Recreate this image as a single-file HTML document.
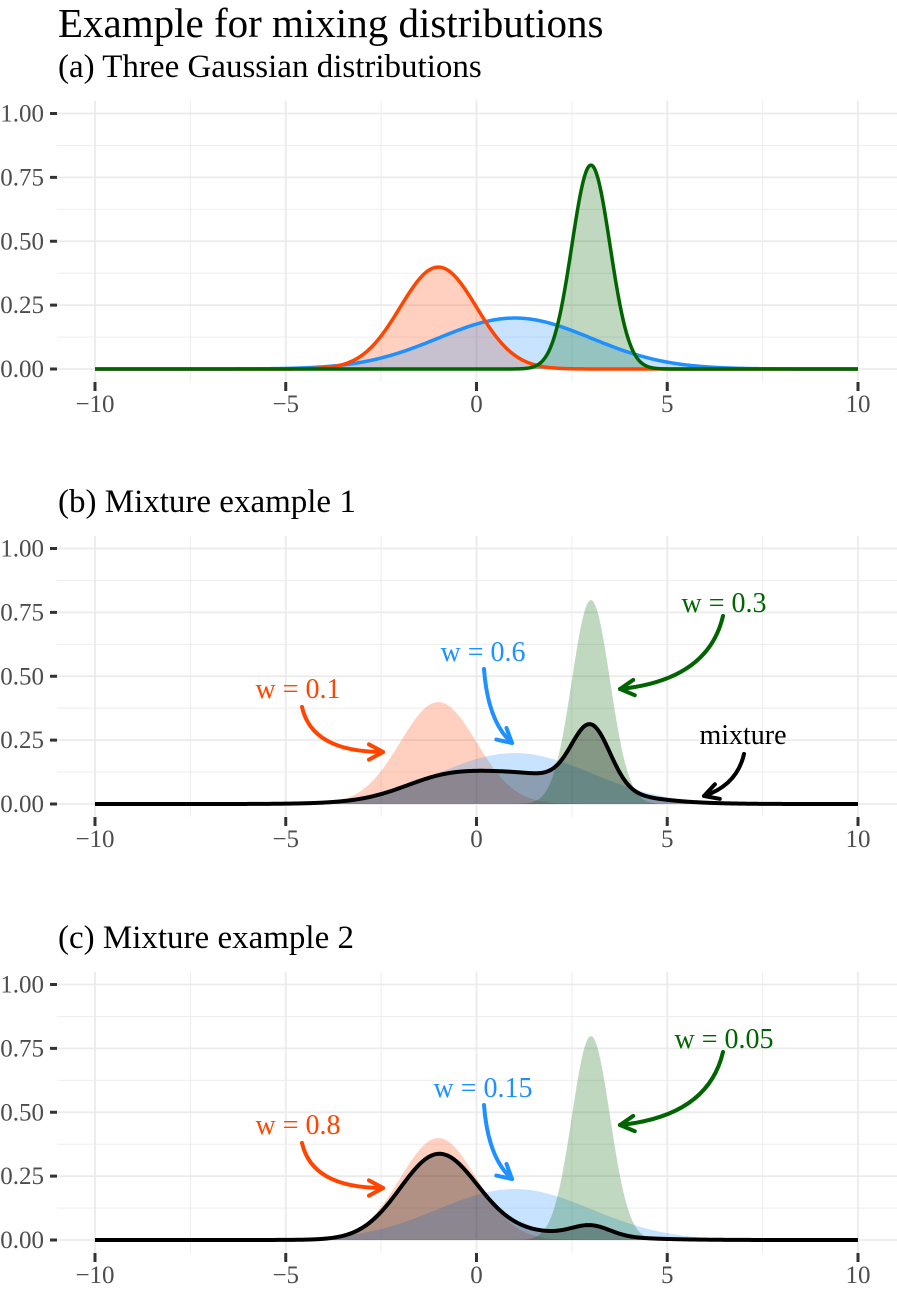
<!DOCTYPE html>
<html><head><meta charset="utf-8"><style>
body{margin:0;background:#fff}
svg text{font-family:"Liberation Serif",serif}
</style></head><body>
<svg id="c" width="897" height="1285" xmlns="http://www.w3.org/2000/svg">
<text x="58" y="37" font-size="41" fill="#000">Example for mixing distributions</text>
</svg>
<script>
const xTicks=[-10,-5,0,5,10];
const xTickLabels=["\u221210","\u22125","0","5","10"];
const yTicks=[0,0.25,0.5,0.75,1];
const yTickLabels=["0.00","0.25","0.50","0.75","1.00"];
const compMeans=[-1,1,3];
const compSds=[1,2,0.5];
const compColors=["#FF4500","#1E90FF","#006400"];
const weightsB=[0.1,0.6,0.3];
const weightsC=[0.8,0.15,0.05];
const panelTitles=["(a) Three Gaussian distributions","(b) Mixture example 1","(c) Mixture example 2"];
const panelY0=[369,804,1240];

const NS="http://www.w3.org/2000/svg";
const svg=document.getElementById('c');
function mk(tag,attrs,parent){const e=document.createElementNS(NS,tag);for(const k in attrs)e.setAttribute(k,attrs[k]);(parent||svg).appendChild(e);return e;}
function dn(x,m,s){return Math.exp(-0.5*((x-m)/s)**2)/(s*Math.sqrt(2*Math.PI));}
const sx=x=>95+(x+10)*(858-95)/20;
function makeSy(y0){return y=>y0-y*255.5;}
const xs=[];for(let i=0;i<=800;i++)xs.push(-10+20*i/800);
function linePath(f,sy){return xs.map((x,i)=>(i?'L':'M')+sx(x).toFixed(2)+' '+sy(f(x)).toFixed(2)).join(' ');}
function areaPath(f,sy){return linePath(f,sy)+' L'+sx(10)+' '+sy(0)+' L'+sx(-10)+' '+sy(0)+' Z';}

function arrow(g,x1,y1,cx,cy,x2,y2,col,name){
  const p=mk('path',{d:`M${x1} ${y1} Q${cx} ${cy} ${x2} ${y2}`,fill:'none',stroke:col,'stroke-width':4,'stroke-linecap':'round'},g);
  
  
  const a=Math.atan2(y2-cy,x2-cx),L=16;
  const h=mk('path',{d:`M${x2-L*Math.cos(a-0.5)} ${y2-L*Math.sin(a-0.5)} L${x2} ${y2} L${x2-L*Math.cos(a+0.5)} ${y2-L*Math.sin(a+0.5)}`,fill:'none',stroke:col,'stroke-width':4,'stroke-linecap':'round','stroke-linejoin':'round'},g);
  
  
}
function label(g,x,y,t,col,name){
  const e=mk('text',{x:x,y:y,'font-size':28,fill:col,'text-anchor':'middle'},g);
  e.textContent=t;
  
  
}

panelY0.forEach((y0,pi)=>{
  const sy=makeSy(y0);
  const g=mk('g',{});
  
  
  const t=mk('text',{x:58,y:y0-292,'font-size':33,fill:'#000'},g);
  t.textContent=panelTitles[pi];
  
  
  const top=sy(1.05),bot=sy(-0.05);
  for(let v=-10;v<=10;v+=2.5){
    const l=mk('line',{x1:sx(v),x2:sx(v),y1:top,y2:bot,stroke:'#ebebeb','stroke-width':v%5===0?1.8:0.9},g);
    
    
  }
  for(let v=0;v<=1.001;v+=0.125){
    const l=mk('line',{x1:57,x2:897,y1:sy(v),y2:sy(v),stroke:'#ebebeb','stroke-width':(Math.round(v*8)%2===0)?1.8:0.9},g);
    
    
  }
  yTicks.forEach((v,i)=>{
    const tk=mk('line',{x1:50,x2:57,y1:sy(v),y2:sy(v),stroke:'#333','stroke-width':3},g);
    
    
    const tl=mk('text',{x:44,y:sy(v)+8,'font-size':25,fill:'#4d4d4d','text-anchor':'end'},g);
    tl.textContent=yTickLabels[i];
    
    
  });
  xTicks.forEach((v,i)=>{
    const tk=mk('line',{x1:sx(v),x2:sx(v),y1:y0+13,y2:y0+22,stroke:'#333','stroke-width':3},g);
    
    
    const tl=mk('text',{x:sx(v),y:y0+43,'font-size':25,fill:'#4d4d4d','text-anchor':'middle'},g);
    tl.textContent=xTickLabels[i];
    
    
  });
  compMeans.forEach((m,k)=>{
    const f=x=>dn(x,m,compSds[k]);
    const a=mk('path',{d:areaPath(f,sy),fill:compColors[k],'fill-opacity':0.25},g);
    
    
  });
  if(pi===0){
    [1,0,2].forEach(k=>{
      const f=x=>dn(x,compMeans[k],compSds[k]);
      const l=mk('path',{d:linePath(f,sy),fill:'none',stroke:compColors[k],'stroke-width':3.5},g);
      
      
    });
  } else {
    const w=pi===1?weightsB:weightsC;
    const f=x=>w[0]*dn(x,compMeans[0],compSds[0])+w[1]*dn(x,compMeans[1],compSds[1])+w[2]*dn(x,compMeans[2],compSds[2]);
    const ma=mk('path',{d:areaPath(f,sy),fill:'#000','fill-opacity':0.3},g);
    
    
    const l=mk('path',{d:linePath(f,sy),fill:'none',stroke:'#000','stroke-width':4},g);
    
    
    const o=y0-804;
    label(g,298,o+698,'w = '+w[0],compColors[0],'weight-label-red');
    arrow(g,302,o+707,312,o+752,383,o+752,compColors[0],'arrow-red');
    label(g,483,o+661,'w = '+w[1],compColors[1],'weight-label-blue');
    arrow(g,484,o+669,488,o+722,512,o+743,compColors[1],'arrow-blue');
    label(g,724,o+612,'w = '+w[2],compColors[2],'weight-label-green');
    arrow(g,723,o+616,708,o+680,620,o+689,compColors[2],'arrow-green');
    if(pi===1){
      label(g,743,744,'mixture','#000','mixture-label');
      arrow(g,744,754,737,785,704,796,'#000','arrow-mixture');
    }
  }
});
</script>
</body></html>
